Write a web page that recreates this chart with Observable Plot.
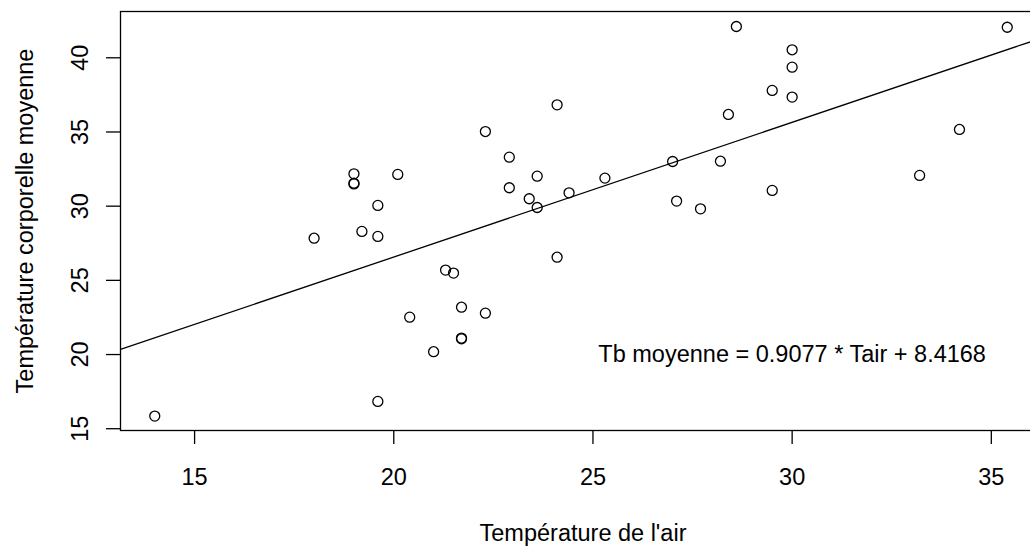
<!DOCTYPE html>
<html><head><meta charset="utf-8">
<script src="https://cdn.jsdelivr.net/npm/d3@7"></script>
<script src="https://cdn.jsdelivr.net/npm/@observablehq/plot@0.6"></script>
<style>html,body{margin:0;padding:0;background:#fff;overflow:hidden;}</style>
</head><body><div id="chart"></div>
<script>
const airTemp = [14.0, 18.0, 19.0, 19.0, 19.0, 19.2, 19.6, 19.6, 19.6, 20.1, 20.4, 21.0, 21.3, 21.5, 21.7, 21.7, 21.7, 22.3, 22.3, 22.9, 22.9, 23.4, 23.6, 23.6, 24.1, 24.1, 24.4, 25.3, 27.0, 27.1, 27.7, 28.2, 28.4, 28.6, 29.5, 29.5, 30.0, 30.0, 30.0, 33.2, 34.2, 35.4];
const bodyTemp = [15.85, 27.84, 32.18, 31.55, 31.5, 28.30, 30.05, 27.96, 16.84, 32.14, 22.52, 20.19, 25.69, 25.49, 23.19, 21.11, 21.06, 22.79, 35.03, 33.30, 31.24, 30.50, 32.02, 29.91, 36.83, 26.56, 30.90, 31.89, 33.01, 30.34, 29.82, 33.03, 36.18, 42.11, 37.80, 31.06, 40.54, 39.37, 37.35, 32.07, 35.17, 42.06];
const xTicks = [15, 20, 25, 30, 35];
const yTicks = [15, 20, 25, 30, 35, 40];
const slope = 0.9077;
const intercept = 8.4168;
const equationLabel = "Tb moyenne = 0.9077 * Tair + 8.4168";
const equationX = 30;
const equationY = 20;
const xTitle = "Température de l'air";
const yTitle = "Température corporelle moyenne";
const xDomain = [13.14, 36.36];
const yDomain = [14.88, 43.12];

const points = airTemp.map((x, i) => ({x, y: bodyTemp[i]}));
const fitLine = xDomain.map(x => ({x, y: slope * x + intercept}));

const chart = Plot.plot({
  width: 1030,
  height: 547,
  marginLeft: 120,
  marginRight: -15,
  marginTop: 11,
  marginBottom: 117,
  style: {fontFamily: "'Liberation Sans', Arial, Helvetica, sans-serif", fontSize: "23.5px", color: "black", background: "white", overflow: "visible"},
  x: {domain: xDomain},
  y: {domain: yDomain},
  marks: [
    Plot.frame({stroke: "black", strokeWidth: 1.3}),
    Plot.axisX({ticks: xTicks, tickSize: 14, tickPadding: 24, label: null, stroke: "black", strokeWidth: 1.3, fill: "black"}),
    Plot.axisY({ticks: yTicks, tickSize: 14, tickPadding: 19, tickRotate: -90, label: null, stroke: "black", strokeWidth: 1.3, fill: "black"}),
    Plot.text([xTitle], {frameAnchor: "bottom", lineAnchor: "bottom", dy: 110, fill: "black"}),
    Plot.text([yTitle], {frameAnchor: "left", rotate: -90, lineAnchor: "bottom", textAnchor: "middle", dx: -88, fill: "black"}),
    Plot.line(fitLine, {x: "x", y: "y", stroke: "black", strokeWidth: 1.3, clip: true}),
    Plot.dot(points, {x: "x", y: "y", r: 5, stroke: "black", strokeWidth: 1.3, fill: "none"}),
    Plot.text([equationLabel], {x: () => equationX, y: () => equationY, textAnchor: "middle", lineAnchor: "middle", fill: "black"})
  ]
});
document.getElementById("chart").appendChild(chart);
</script>
</body></html>
